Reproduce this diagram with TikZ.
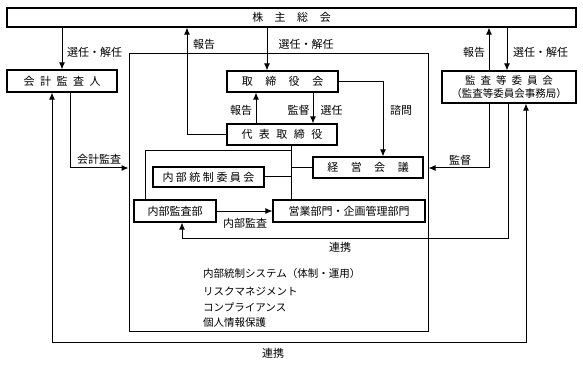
\documentclass[tikz,border=0pt]{standalone}
\usepackage{fontspec}
\setmainfont{Noto Sans CJK JP}
\usetikzlibrary{arrows.meta}

\begin{document}
\begin{tikzpicture}[
  x=1pt, y=-1pt,
  font=\fontsize{11}{13}\selectfont,
  unit/.style={rectangle, draw, line width=1.1pt, inner sep=0pt, align=center},
  arrow/.style={-{Latex[length=7pt,width=6pt]}, line width=1pt},
  biarrow/.style={{Latex[length=7pt,width=6pt]}-{Latex[length=7pt,width=6pt]}, line width=1pt},
  link/.style={line width=1pt},
  lbl/.style={inner sep=0pt},
  item/.style={inner sep=0pt, anchor=west, font=\fontsize{10.5}{13}\selectfont}
]
\useasboundingbox (0,0) rectangle (583,366);

% company frame
\node[unit, line width=1pt, minimum width=299pt, minimum height=277pt] (company) at (278.5,192.5) {};

% boxes
\node[unit, minimum width=569pt, minimum height=19pt] (gm) at (291.5,17.5) {株\hspace{11.5pt}主\hspace{11.5pt}総\hspace{11.5pt}会};
\node[unit, minimum width=110pt, minimum height=22pt] (auditor) at (62,81) {会\hspace{5.5pt}計\hspace{5.5pt}監\hspace{5.5pt}査\hspace{5.5pt}人};
\node[unit, minimum width=111pt, minimum height=21pt] (board) at (282.5,81.5) {取\hspace{12.5pt}締\hspace{12.5pt}役\hspace{12.5pt}会};
\node[unit, minimum width=110pt, minimum height=21pt] (ceo) at (282,134.5) {代\hspace{6.5pt}表\hspace{6.5pt}取\hspace{6.5pt}締\hspace{6.5pt}役};
\node[unit, minimum width=110pt, minimum height=21pt] (mgmt) at (368,167.5) {経\hspace{12.5pt}営\hspace{12.5pt}会\hspace{12.5pt}議};
\node[unit, minimum width=111pt, minimum height=20pt] (icc) at (208.5,177) {内\hspace{2.5pt}部\hspace{2.5pt}統\hspace{2.5pt}制\hspace{2.5pt}委\hspace{2.5pt}員\hspace{2.5pt}会};
\node[unit, minimum width=82pt, minimum height=22pt] (iad) at (175,211) {内部監査部};
\node[unit, minimum width=152pt, minimum height=22pt] (biz) at (349,211) {営業部門・企画管理部門};
\node[unit, minimum width=134pt, minimum height=32pt, font=\fontsize{10.5}{12.5}\selectfont] (ac) at (509,87)
  {監\hspace{5pt}査\hspace{5pt}等\hspace{5pt}委\hspace{5pt}員\hspace{5pt}会\\（監査等委員会事務局）};

% list in the company frame
\node[item] (sys) at (203,274) {内部統制システム（体制・運用）};
\node[item] (risk) at (203,291) {リスクマネジメント};
\node[item] (comp) at (203,307) {コンプライアンス};
\node[item] (priv) at (203,323) {個人情報保護};

% routing points
\coordinate (xol) at (52,0);
\coordinate (xk) at (70,0);
\coordinate (xl) at (145,0);
\coordinate (xi) at (182,0);
\coordinate (xr1) at (187,0);
\coordinate (xr2) at (256,0);
\coordinate (xs1) at (267,0);
\coordinate (xbus) at (291,0);
\coordinate (xs2) at (313,0);
\coordinate (xq) at (383,0);
\coordinate (xr3) at (489,0);
\coordinate (xs3) at (507,0);
\coordinate (xc) at (508,0);
\coordinate (xo) at (526,0);
\coordinate (yb) at (0,151);
\coordinate (yk) at (0,168);
\coordinate (yl) at (0,238);
\coordinate (yo) at (0,342);

% connectors
\draw[arrow] (gm.south -| auditor.north) -- (auditor.north);
\draw[arrow] (ceo.west) -| (xr1 |- gm.south);
\draw[arrow] (gm.south -| xs1) -- (board.north -| xs1);
\draw[arrow] (ceo.north -| xr2) -- (board.south -| xr2);
\draw[arrow] (board.south -| xs2) -- (ceo.north -| xs2);
\draw[arrow] (board.east) -| (mgmt.north -| xq);
\draw[link] (ceo.south -| xbus) -- (biz.north -| xbus);
\draw[link] (xbus |- mgmt.west) -- (mgmt.west);
\draw[link] (icc.east) -- (icc.east -| xbus);
\draw[link] (xbus |- yb) -| (iad.north -| xl);
\draw[arrow] (iad.east) -- (biz.west);
\draw[arrow] (auditor.south -| xk) |- (company.west |- yk);
\draw[arrow] (ac.south -| xr3) |- (company.east |- yk);
\draw[arrow] (ac.south -| xc) |- (xi |- yl) -- (iad.south -| xi);
\draw[arrow] (ac.north -| xr3) -- (gm.south -| xr3);
\draw[arrow] (gm.south -| xs3) -- (ac.north -| xs3);
\draw[biarrow] (auditor.south -| xol) |- (xo |- yo) -- (ac.south -| xo);

% labels
\node[lbl] (l1) at (94.5,52) {選任・解任};
\node[lbl] (l2) at (204,44) {報告};
\node[lbl] (l3) at (306,44) {選任・解任};
\node[lbl] (l4) at (241,110) {報告};
\node[lbl] (l5) at (298.5,110) {監督};
\node[lbl] (l6) at (331.5,110) {選任};
\node[lbl] (l7) at (401,110) {諮問};
\node[lbl] (l8) at (245,223) {内部監査};
\node[lbl] (l9) at (340,247) {連携};
\node[lbl] (l10) at (460,160) {監督};
\node[lbl] (l11) at (474,52) {報告};
\node[lbl] (l12) at (540.5,52) {選任・解任};
\node[lbl] (l13) at (99,159) {会計監査};
\node[lbl] (l14) at (273,353) {連携};
\end{tikzpicture}
\end{document}
